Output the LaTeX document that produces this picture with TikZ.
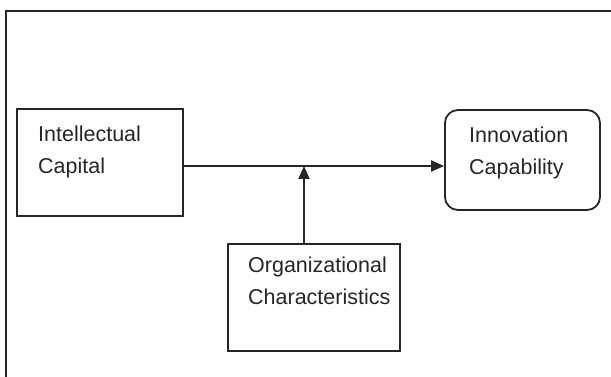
\documentclass[tikz,border=0pt]{standalone}
\usepackage{fontspec}
\setmainfont{Liberation Sans}
\usetikzlibrary{arrows.meta}
\tikzset{
  box/.style={draw=black!85, line width=1.8pt, minimum width=#1, inner sep=0pt},
  lbl/.style={anchor=base west, inner sep=0pt, align=left, font=\fontsize{21.5}{32}\selectfont, text=black!85},
  conn/.style={draw=black!85, line width=2pt, -{Triangle[length=13pt,width=11pt]}}
}
\begin{document}
\begin{tikzpicture}[x=1pt,y=-1pt]
\useasboundingbox (0,0) rectangle (611,377);
\fill[white] (0,0) rectangle (611,377);
% outer frame
\coordinate (fa) at (6,377);
\coordinate (fb) at (6,11);
\coordinate (fc) at (611,11);
\draw[black!85, line width=2.2pt] (fa) -- (fb) -- (fc);
% boxes
\node[box=166pt, minimum height=107pt] (ic) at (100,162.5) {};
\node[box=155pt, minimum height=100pt, rounded corners=13pt] (inn) at (522.5,160) {};
\node[box=172pt, minimum height=107pt] (oc) at (314,297.5) {};
% labels
\node[lbl] (t1) at (38,174) {Intellectual\\Capital};
\node[lbl] (t2) at (469,175) {Innovation\\Capability};
\node[lbl] (t3) at (248,304) {Organizational\\Characteristics};
% connectors
\coordinate (h) at (304,166);
\draw[conn] (ic.east |- h) -- (inn.west |- h);
\draw[conn] (oc.north -| h) -- (h);
\end{tikzpicture}
\end{document}
